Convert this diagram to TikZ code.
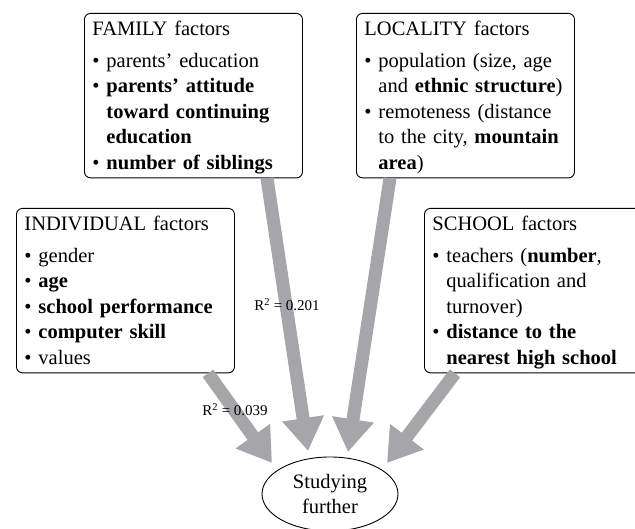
\documentclass[tikz,border=0pt]{standalone}
\usepackage{fontspec}
\setmainfont{Liberation Serif}
\usetikzlibrary{arrows.meta,shapes.geometric}

\definecolor{arrowgray}{RGB}{166,166,170}
\newcommand{\itm}[1]{\mbox{\textbullet\ #1}}
\newcommand{\cnt}[1]{\mbox{\phantom{\textbullet\ }#1}}
\newcommand{\topgap}{\rule{0pt}{19.4pt}}
\newcommand{\botgap}{\rule[-5.5pt]{0pt}{5.5pt}}

\begin{document}
\begin{tikzpicture}[x=1pt,y=1pt,
		factorbox/.style={draw,line width=0.9pt,rounded corners=6pt,anchor=north west,
			text width=202pt,inner xsep=8pt,inner ysep=3pt,align=left,
			font=\fontsize{20.5}{25.5}\selectfont},
		flow/.style={line width=13pt,arrowgray,-{Triangle[width=40pt,length=33pt]}},
		rlabel/.style={font=\fontsize{15}{18}\selectfont}]
				\path[use as bounding box,clip] (0,0) rectangle (635,529);
				% factor boxes
				\node[factorbox] (family) at (84,516) {\topgap FAMILY factors\\[6pt]
					\itm{parents' education}\\
					\itm{\textbf{parents' attitude}}\\
					\cnt{\textbf{toward continuing}}\\
					\cnt{\textbf{education}}\\
					\itm{\textbf{number of siblings}}\botgap};
				\node[factorbox] (locality) at (356,516) {\topgap LOCALITY factors\\[6pt]
					\itm{population (size, age}\\
					\cnt{and \textbf{ethnic structure})}\\
					\itm{remoteness (distance}\\
					\cnt{to the city, \textbf{mountain}}\\
					\cnt{\textbf{area})}\botgap};
				\node[factorbox] (individual) at (16,321) {\topgap INDIVIDUAL factors\\[6pt]
					\itm{gender}\\
					\itm{\textbf{age}}\\
					\itm{\textbf{school performance}}\\
					\itm{\textbf{computer skill}}\\
					\itm{values}\botgap};
				\node[factorbox] (school) at (424,321) {\topgap SCHOOL factors\\[6pt]
					\itm{teachers (\textbf{number},}\\
					\cnt{qualification and}\\
					\cnt{turnover)}\\
					\itm{\textbf{distance to the}}\\
					\cnt{\textbf{nearest high school}}\botgap};
				\node[draw,ellipse,line width=0.9pt,minimum width=136pt,minimum height=74pt,
					inner sep=0pt,align=center,font=\fontsize{20.5}{25}\selectfont]
					(study) at (330,35) {Studying\\further};
				% arrow ends
				\coordinate (famout) at ([xshift=183pt]family.south west);
				\coordinate (locout) at ([xshift=34pt]locality.south west);
				\coordinate (indout) at ([xshift=192pt]individual.south west);
				\coordinate (schout) at ([xshift=31pt]school.south west);
				\coordinate (famin) at ([shift={(-22pt,43pt)}]study.center);
				\coordinate (locin) at ([shift={(18pt,42pt)}]study.center);
				\coordinate (indin) at ([shift={(-58pt,31pt)}]study.center);
				\coordinate (schin) at ([shift={(57pt,31pt)}]study.center);
				\draw[flow] (famout) -- (famin);
				\draw[flow] (locout) -- (locin);
				\draw[flow] (indout) -- (indin);
				\draw[flow] (schout) -- (schin);
				\node[rlabel] (rfam) at (287,224) {R\textsuperscript{2} = 0.201};
				\node[rlabel] (rind) at (235,119) {R\textsuperscript{2} = 0.039};
			\end{tikzpicture}
\end{document}
